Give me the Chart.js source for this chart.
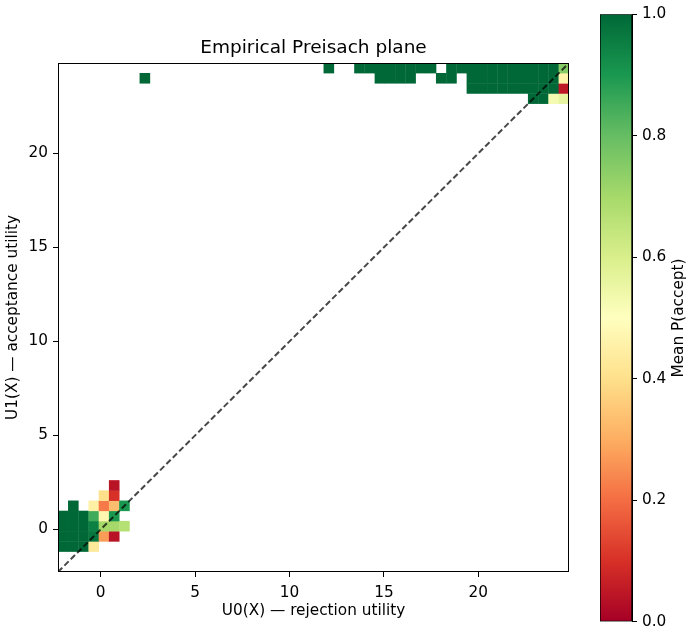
<!DOCTYPE html>
<html>
<head>
<meta charset="utf-8">
<script src="https://cdn.jsdelivr.net/npm/chart.js@4.4.0/dist/chart.umd.min.js"></script>
<style>
  html, body { margin: 0; padding: 0; background: #fff; }
  #wrap { position: relative; width: 694px; height: 636px; }
  #plane { position: absolute; left: 0; top: 0; }
  #colorbar { position: absolute; left: 580px; top: 0; }
</style>
</head>
<body>
<div id="wrap">
  <canvas id="plane" width="627" height="636"></canvas>
  <canvas id="colorbar" width="114" height="636"></canvas>
</div>
<script>
// histogram range, same for both axes (50 x 50 bins)
const binLo = -2.26;
const binHi = 24.8;
const nBins = 50;
const tickValues = [0, 5, 10, 15, 20];
const cbTicks = [0, 0.2, 0.4, 0.6, 0.8, 1.0];

// occupied bins: column (U0 bin), row (U1 bin), mean P(accept)
const u0Bin = [
  0, 1, 2, 3,
  0, 1, 2, 3, 4, 5,
  0, 1, 2, 3, 4, 5, 6,
  0, 1, 2, 3, 4, 5,
  1, 3, 4, 5, 6,
  4, 5,
  5,
  46, 47, 48, 49,
  40, 41, 42, 43, 44, 45, 46, 47, 48, 49,
  8, 31, 32, 33, 34, 37, 38, 40, 41, 42, 43, 44, 45, 46, 47, 48, 49,
  26, 29, 30, 31, 32, 33, 34, 35, 36, 38, 39, 40, 41, 42, 43, 44, 45, 46, 47, 48, 49
];
const u1Bin = [
  2, 2, 2, 2,
  3, 3, 3, 3, 3, 3,
  4, 4, 4, 4, 4, 4, 4,
  5, 5, 5, 5, 5, 5,
  6, 6, 6, 6, 6,
  7, 7,
  8,
  46, 46, 46, 46,
  47, 47, 47, 47, 47, 47, 47, 47, 47, 47,
  48, 48, 48, 48, 48, 48, 48, 48, 48, 48, 48, 48, 48, 48, 48, 48, 48,
  49, 49, 49, 49, 49, 49, 49, 49, 49, 49, 49, 49, 49, 49, 49, 49, 49, 49, 49, 49, 49
];
const pAccept = [
  1, 1, 1, 0.43,
  1, 1, 1, 0.97, 0.27, 0.04,
  1, 1, 1, 0.95, 0.70, 0.70, 0.67,
  1, 1, 1, 0.85, 0.47, 0.90,
  1, 0.45, 0.22, 0.33, 0.90,
  0.40, 0.10,
  0.04,
  1, 1, 0.53, 0.56,
  1, 1, 1, 1, 1, 1, 1, 1, 1, 0.05,
  1, 1, 1, 1, 1, 1, 1, 1, 1, 1, 1, 1, 1, 1, 1, 1, 0.46,
  1, 1, 1, 1, 1, 1, 1, 1, 1, 1, 1, 1, 1, 1, 1, 1, 1, 1, 1, 1, 0.75
];

// RdYlGn colormap
const rdYlGn = ['#a50026', '#d73027', '#f46d43', '#fdae61', '#fee08b', '#ffffbf',
                '#d9ef8b', '#a6d96a', '#66bd63', '#1a9850', '#006837'];

function hexRgb(h) {
  return [1, 3, 5].map(i => parseInt(h.substr(i, 2), 16));
}
function cmap(v) {
  const t = Math.max(0, Math.min(1, v)) * (rdYlGn.length - 1);
  const i = Math.min(Math.floor(t), rdYlGn.length - 2);
  const f = t - i;
  const a = hexRgb(rdYlGn[i]), b = hexRgb(rdYlGn[i + 1]);
  const c = a.map((x, k) => Math.round(x + (b[k] - x) * f));
  return 'rgb(' + c.join(',') + ')';
}

const binW = (binHi - binLo) / nBins;
const cells = u0Bin.map((c, k) => ({
  x: binLo + (c + 0.5) * binW,
  y: binLo + (u1Bin[k] + 0.5) * binW,
  p: pAccept[k]
}));

const font = { family: 'DejaVu Sans', size: 15.3 };

// black box round the plot area
const frame = {
  id: 'frame',
  afterDraw(chart) {
    const a = chart.chartArea, c = chart.ctx;
    c.save();
    c.strokeStyle = '#000';
    c.lineWidth = 1;
    c.strokeRect(Math.round(a.left) + 0.5, Math.round(a.top) + 0.5,
                 Math.round(a.right - a.left) - 1, Math.round(a.bottom - a.top) - 1);
    c.restore();
  }
};

new Chart(document.getElementById('plane'), {
  type: 'scatter',
  data: {
    datasets: [
      {
        type: 'line',
        data: [{ x: binLo, y: binLo }, { x: binHi, y: binHi }],
        borderColor: 'rgba(0,0,0,0.72)',
        borderWidth: 2,
        borderDash: [6, 3],
        pointRadius: 0,
        order: 0
      },
      {
        data: cells,
        pointStyle: 'rect',
        borderWidth: 0,
        backgroundColor: ctx => cmap(ctx.raw ? ctx.raw.p : 0),
        pointRadius: ctx => {
          const xs = ctx.chart.scales.x, ys = ctx.chart.scales.y;
          const w = (Math.abs(xs.getPixelForValue(binW) - xs.getPixelForValue(0)) +
                     Math.abs(ys.getPixelForValue(binW) - ys.getPixelForValue(0))) / 2;
          return (w + 0.4) / Math.SQRT2;
        },
        order: 1
      }
    ]
  },
  options: {
    responsive: false,
    animation: false,
    events: [],
    layout: { padding: 0 },
    plugins: {
      legend: { display: false },
      tooltip: { enabled: false },
      title: {
        display: true,
        text: 'Empirical Preisach plane',
        color: '#000',
        font: { family: 'DejaVu Sans', size: 18.5, weight: 'normal' },
        padding: { top: 37, bottom: 3.8 }
      }
    },
    scales: {
      x: {
        type: 'linear',
        min: binLo,
        max: binHi,
        afterBuildTicks: s => { s.ticks = tickValues.map(v => ({ value: v })); },
        afterFit: s => { s.height = 64; },
        ticks: { font, color: '#000', padding: 7, callback: v => String(v) },
        grid: { drawOnChartArea: false, tickLength: 5, color: '#000' },
        border: { display: false },
        title: { display: true, text: 'U0(X) — rejection utility', color: '#000', font, padding: { top: 0, bottom: 16 } }
      },
      y: {
        type: 'linear',
        min: binLo,
        max: binHi,
        afterBuildTicks: s => { s.ticks = tickValues.map(v => ({ value: v })); },
        afterFit: s => { s.width = 58; },
        ticks: { font, color: '#000', padding: 5, callback: v => String(v) },
        grid: { drawOnChartArea: false, tickLength: 5, color: '#000' },
        border: { display: false },
        title: { display: true, text: 'U1(X) — acceptance utility', color: '#000', font, padding: { top: 4, bottom: 0 } }
      },
      yR: {
        position: 'right',
        min: 0,
        max: 1,
        afterFit: s => { s.width = 58; },
        ticks: { display: false },
        grid: { display: false },
        border: { display: false }
      }
    }
  },
  plugins: [frame]
});

// colorbar label, reads bottom to top
const cbLabel = {
  id: 'cbLabel',
  afterDraw(chart) {
    const a = chart.chartArea, c = chart.ctx;
    c.save();
    c.translate(99, (a.top + a.bottom) / 2);
    c.rotate(-Math.PI / 2);
    c.fillStyle = '#000';
    c.font = '15.3px "DejaVu Sans"';
    c.textAlign = 'center';
    c.textBaseline = 'middle';
    c.fillText('Mean P(accept)', 0, 0);
    c.restore();
  }
};

new Chart(document.getElementById('colorbar'), {
  type: 'bar',
  data: {
    labels: [''],
    datasets: [{
      data: [[0, 1]],
      backgroundColor: ctx => {
        const a = ctx.chart.chartArea;
        if (!a) return 'transparent';
        const g = ctx.chart.ctx.createLinearGradient(0, a.bottom, 0, a.top);
        rdYlGn.forEach((col, i) => g.addColorStop(i / (rdYlGn.length - 1), col));
        return g;
      },
      borderColor: '#000',
      borderWidth: 1,
      borderSkipped: false,
      barPercentage: 1,
      categoryPercentage: 1
    }]
  },
  options: {
    responsive: false,
    animation: false,
    events: [],
    layout: { padding: { left: 20, top: 10, bottom: 13, right: 0 } },
    plugins: { legend: { display: false }, tooltip: { enabled: false } },
    scales: {
      x: { display: false },
      y: {
        position: 'right',
        min: 0,
        max: 1,
        afterBuildTicks: s => { s.ticks = cbTicks.map(v => ({ value: v })); },
        afterFit: s => { s.width = 62; },
        ticks: { font, color: '#000', padding: 5, callback: v => v.toFixed(1) },
        grid: { drawOnChartArea: false, tickLength: 5, color: '#000' },
        border: { display: true, color: '#000' }
      }
    }
  },
  plugins: [cbLabel]
});
</script>
</body>
</html>
